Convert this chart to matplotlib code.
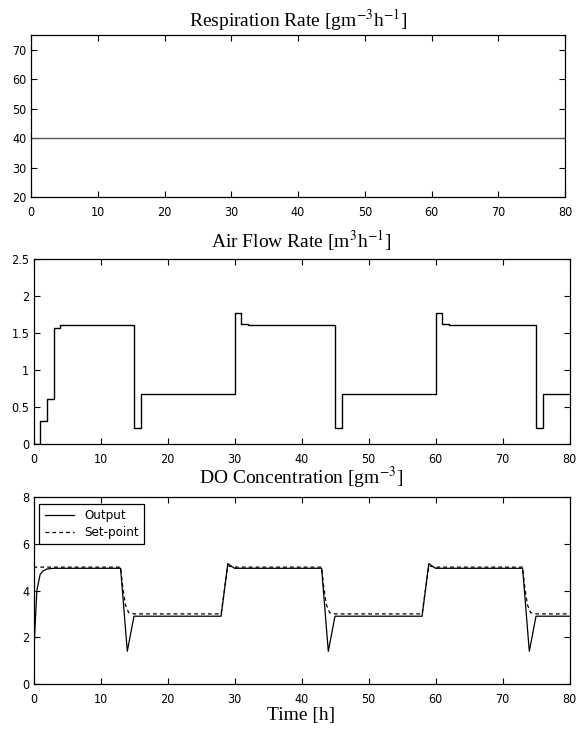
import matplotlib
matplotlib.use("Agg")
import matplotlib.pyplot as plt
import numpy as np

# ---- data ----
resp_t = [0, 80]
resp_v = [40, 40]

air_t = [0, 1, 2, 3, 4, 15, 16, 30, 31, 32, 45, 46, 60, 61, 62, 75, 76, 80]
air_v = [0, 0.30, 0.60, 1.57, 1.60, 0.21, 0.67, 1.77, 1.62, 1.60, 0.21, 0.67, 1.77, 1.62, 1.60, 0.21, 0.67, 0.67]

do_t = [0, 0.5, 1, 1.5, 2, 3, 13, 14, 15, 28, 29, 30, 43, 44, 45, 58, 59, 60, 73, 74, 75, 80]
do_v = [1.1, 4.0, 4.7, 4.85, 4.92, 4.95, 4.95, 1.4, 2.9, 2.9, 5.15, 4.95, 4.95, 1.4, 2.9, 2.9, 5.15, 4.95, 4.95, 1.4, 2.9, 2.9]

sp_t = [0, 13, 13.3, 13.7, 14.2, 15, 28, 29, 30, 43, 43.3, 43.7, 44.2, 45, 58, 59, 60, 73, 73.3, 73.7, 74.2, 75, 80]
sp_v = [5.0, 5.0, 4.2, 3.4, 3.05, 3.0, 3.0, 5.05, 5.0, 5.0, 4.2, 3.4, 3.05, 3.0, 3.0, 5.05, 5.0, 5.0, 4.2, 3.4, 3.05, 3.0, 3.0]

x_ticks = [0, 10, 20, 30, 40, 50, 60, 70, 80]
resp_yticks = [20, 30, 40, 50, 60, 70]
air_yticks = [0, 0.5, 1, 1.5, 2, 2.5]
air_ylabels = ["0", "0.5", "1", "1.5", "2", "2.5"]
do_yticks = [0, 2, 4, 6, 8]

titles = [r"Respiration Rate [gm$^{-3}$h$^{-1}$]",
          r"Air Flow Rate [m$^{3}$h$^{-1}$]",
          r"DO Concentration [gm$^{-3}$]"]

plt.rcParams['mathtext.fontset'] = 'stix'
serif = ['Liberation Serif', 'DejaVu Serif']
tickfont = ['DejaVu Sans', 'Liberation Sans']

W, H = 576, 733
fig = plt.figure(figsize=(W / 100, H / 100), dpi=100)

def box(l, t, r, b):
    return [l / W, 1 - b / H, (r - l) / W, (b - t) / H]

ax1 = fig.add_axes(box(31, 35, 565, 197))
ax2 = fig.add_axes(box(33.5, 259, 569.5, 443.5))
ax3 = fig.add_axes(box(33.5, 497, 569.5, 684))

def style(ax, yticks, ylabels=None):
    ax.set_xlim(0, 80)
    ax.set_xticks(x_ticks)
    ax.set_yticks(yticks)
    if ylabels is not None:
        ax.set_yticklabels(ylabels)
    ax.tick_params(direction='in', length=4, width=0.8, top=True, right=True,
                   labelsize=9, pad=3, colors='black')
    ax.tick_params(axis='x', pad=6.5)
    for lab in ax.get_xticklabels() + ax.get_yticklabels():
        lab.set_family(tickfont)
        lab.set_stretch('condensed')
    for s in ax.spines.values():
        s.set_linewidth(0.9)
        s.set_color('black')

ax1.plot(resp_t, resp_v, color='#555555', lw=1.0)
ax1.set_ylim(20, 75)
style(ax1, resp_yticks)
ax1.set_title(titles[0], family=serif, fontsize=14, pad=6)

ax2.step(air_t, air_v, where='post', color='black', lw=1.0)
ax2.set_ylim(0, 2.5)
style(ax2, air_yticks, air_ylabels)
ax2.set_title(titles[1], family=serif, fontsize=14, pad=8)

ax3.plot(do_t, do_v, color='black', lw=0.9, label='Output')
ax3.plot(sp_t, sp_v, color='black', lw=0.9, ls=(0, (3, 2.5)), label='Set-point')
ax3.set_ylim(0, 8)
style(ax3, do_yticks)
ax3.set_title(titles[2], family=serif, fontsize=14, pad=9.5)
ax3.set_xlabel('Time [h]', family=serif, fontsize=14, labelpad=1)
leg = ax3.legend(loc='upper left',
                 prop={'family': tickfont, 'size': 9.5, 'stretch': 'condensed'},
                 fancybox=False, edgecolor='black', framealpha=1,
                 borderpad=0.4, handlelength=2.2, labelspacing=0.3,
                 bbox_to_anchor=(0.011, 0.963), borderaxespad=0)
leg.get_frame().set_linewidth(0.9)

fig.savefig('out.png', dpi=100)
